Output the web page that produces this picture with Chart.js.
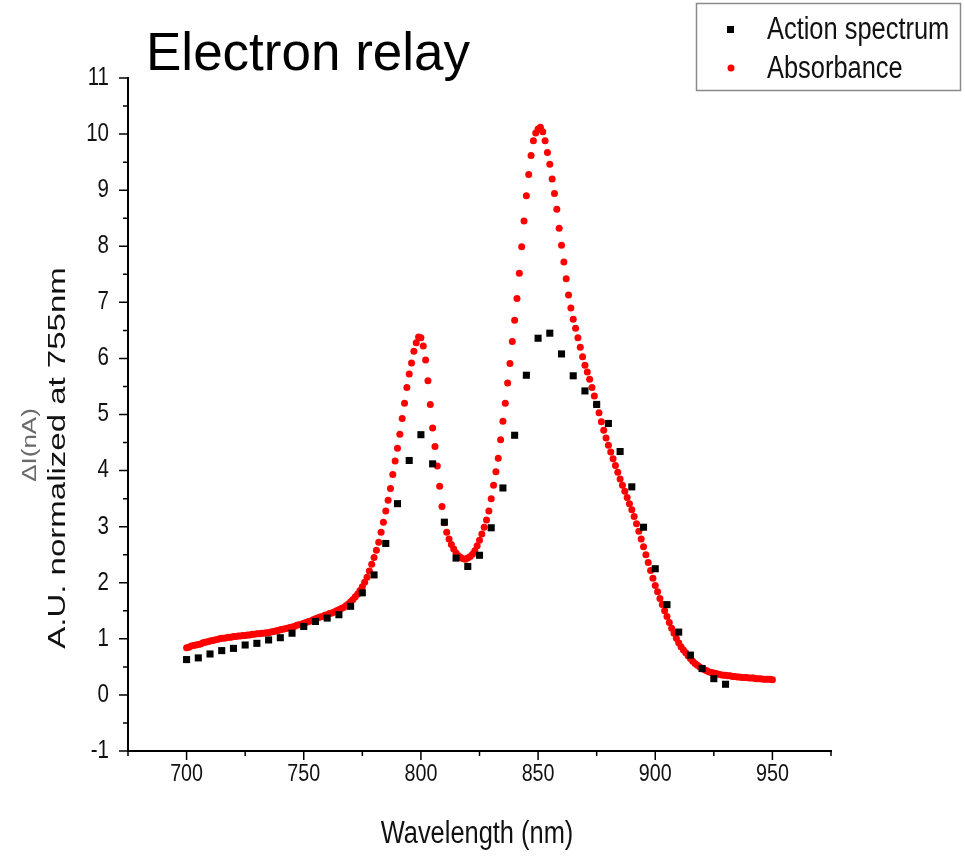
<!DOCTYPE html>
<html>
<head>
<meta charset="utf-8">
<script src="https://cdn.jsdelivr.net/npm/chart.js@4.4.1/dist/chart.umd.min.js"></script>
<style>
  html, body { margin: 0; padding: 0; background: #fff; }
  canvas { display: block; }
</style>
</head>
<body>
<canvas id="c" width="965" height="856"></canvas>
<script>
// ---------- DATA ----------
const chartTitle = 'Electron relay';
const seriesNames = ['Action spectrum', 'Absorbance'];
const xAxisTitle = 'Wavelength (nm)';
const yAxisTitleTop = '\u0394I(nA)';
const yAxisTitle = 'A.U. normalized at 755nm';

// Action spectrum: wavelengths (nm) and values
const actionWavelengths = [700,705,710,715,720,725,730,735,740,745,750,755,760,765,770,775,780,785,790,795,
  800,805,810,815,820,825,830,835,840,845,850,855,860,865,870,875,880,885,890,895,900,905,910,915,920,925,930];
const actionValues = [0.63,0.66,0.73,0.79,0.83,0.89,0.92,0.98,1.02,1.10,1.22,1.31,1.37,1.43,1.58,1.82,2.14,2.70,3.41,4.18,
  4.64,4.12,3.08,2.44,2.29,2.49,2.98,3.69,4.63,5.70,6.36,6.45,6.08,5.69,5.42,5.18,4.84,4.34,3.71,2.99,2.25,1.61,1.12,0.71,0.47,0.29,0.19];

// Absorbance: sampled every 1 nm from 700 nm to 950 nm
const absorbanceStart = 700;
const absorbanceStep = 1;
const absorbanceValues = [
  0.84,0.85,0.87,0.88,0.89,0.90,0.91,0.93,0.94,0.95,
  0.96,0.97,0.98,0.99,1.00,1.01,1.01,1.02,1.03,1.03,
  1.04,1.04,1.05,1.05,1.06,1.06,1.07,1.07,1.08,1.08,
  1.09,1.09,1.10,1.10,1.11,1.11,1.12,1.13,1.14,1.15,
  1.16,1.17,1.18,1.19,1.20,1.21,1.22,1.24,1.25,1.26,
  1.28,1.29,1.31,1.32,1.34,1.36,1.37,1.39,1.40,1.42,
  1.43,1.45,1.46,1.48,1.50,1.52,1.54,1.56,1.59,1.62,
  1.66,1.70,1.75,1.80,1.86,1.93,2.01,2.10,2.21,2.33,
  2.45,2.58,2.72,2.90,3.08,3.28,3.47,3.68,3.93,4.17,
  4.40,4.65,4.93,5.20,5.48,5.72,5.92,6.13,6.28,6.38,
  6.37,6.22,5.97,5.60,5.18,4.76,4.43,4.08,3.72,3.36,
  3.07,2.90,2.78,2.68,2.60,2.53,2.48,2.45,2.43,2.42,
  2.44,2.47,2.51,2.57,2.66,2.76,2.87,2.99,3.12,3.28,
  3.50,3.74,3.98,4.22,4.55,4.88,5.20,5.56,5.91,6.30,
  6.68,7.07,7.52,7.99,8.45,8.90,9.28,9.62,9.88,10.02,
  10.09,10.12,10.04,9.88,9.67,9.46,9.20,8.94,8.66,8.32,
  8.02,7.72,7.42,7.13,6.90,6.70,6.54,6.37,6.20,6.03,
  5.88,5.76,5.63,5.48,5.33,5.18,5.03,4.87,4.72,4.58,
  4.45,4.33,4.21,4.09,3.97,3.85,3.74,3.63,3.52,3.41,
  3.30,3.18,3.05,2.92,2.78,2.64,2.50,2.36,2.22,2.08,
  1.95,1.84,1.72,1.61,1.50,1.40,1.29,1.19,1.10,1.01,
  0.93,0.86,0.80,0.75,0.70,0.65,0.60,0.56,0.53,0.50,
  0.47,0.45,0.43,0.41,0.40,0.39,0.38,0.37,0.36,0.35,
  0.35,0.34,0.34,0.33,0.33,0.32,0.32,0.31,0.31,0.31,
  0.30,0.30,0.30,0.29,0.29,0.29,0.28,0.28,0.28,0.28,
  0.27
];

// Axis ticks
const xMin = 675, xMax = 975;
const xMajorTicks = [700,750,800,850,900,950];
const xMinorTicks = [675,725,775,825,875,925,975];
const yMin = -1, yMax = 11;
const yMajorTicks = [-1,0,1,2,3,4,5,6,7,8,9,10,11];
const yMinorTicks = [-0.5,0.5,1.5,2.5,3.5,4.5,5.5,6.5,7.5,8.5,9.5,10.5];

// ---------- BUILD ----------
const actionPoints = actionWavelengths.map((w, i) => ({ x: w, y: actionValues[i] }));
const absorbancePoints = absorbanceValues.map((v, i) => ({ x: absorbanceStart + i * absorbanceStep, y: v }));

const SANS = '"Liberation Sans", Arial, Helvetica, sans-serif';
const NARROW_X = 0.82; // horizontal condensing of the plot's own texts

const xAllTicks = xMajorTicks.concat(xMinorTicks).sort((a, b) => a - b);
const yAllTicks = yMajorTicks.concat(yMinorTicks).sort((a, b) => a - b);

const decorations = {
  id: 'decorations',
  afterDraw(chart) {
    const ctx = chart.ctx;
    const xs = chart.scales.x, ys = chart.scales.y;
    const area = chart.chartArea;

    function htext(text, x, y, size, align, baseline, sx, color) {
      ctx.save();
      ctx.translate(x, y);
      ctx.scale(sx, 1);
      ctx.font = size + 'px ' + SANS;
      ctx.fillStyle = color;
      ctx.textAlign = align;
      ctx.textBaseline = baseline;
      ctx.fillText(text, 0, 0);
      ctx.restore();
    }
    function vtext(text, cx, cy, size, color, sx) {
      ctx.save();
      ctx.translate(cx, cy);
      ctx.scale(sx, 1);
      ctx.rotate(-Math.PI / 2);
      ctx.font = size + 'px ' + SANS;
      ctx.fillStyle = color;
      ctx.textAlign = 'center';
      ctx.textBaseline = 'middle';
      ctx.fillText(text, 0, 0);
      ctx.restore();
    }

    ctx.save();
    // tick marks
    ctx.strokeStyle = '#000';
    ctx.lineWidth = 1.5;
    ctx.beginPath();
    xAllTicks.forEach(v => {
      const px = xs.getPixelForValue(v);
      const len = xMajorTicks.includes(v) ? 9 : 5;
      ctx.moveTo(px, area.bottom);
      ctx.lineTo(px, area.bottom + len);
    });
    yAllTicks.forEach(v => {
      const py = ys.getPixelForValue(v);
      const len = yMajorTicks.includes(v) ? 9 : 5;
      ctx.moveTo(area.left, py);
      ctx.lineTo(area.left - len, py);
    });
    ctx.stroke();
    ctx.restore();

    // tick labels
    xMajorTicks.forEach(v => {
      htext(String(v), xs.getPixelForValue(v), area.bottom + 23, 24, 'center', 'middle', NARROW_X, '#111');
    });
    yMajorTicks.forEach(v => {
      htext(String(v), area.left - 19, ys.getPixelForValue(v), 25, 'right', 'middle', NARROW_X, '#111');
    });

    // axis titles
    htext(xAxisTitle, 477, 834, 31, 'center', 'middle', NARROW_X, '#111');
    vtext(yAxisTitle, 58, 458, 33, '#111', 0.75);
    vtext(yAxisTitleTop, 31, 445, 26, '#6a6a6a', 0.75);

    // chart title
    htext(chartTitle, 146, 70, 53, 'left', 'alphabetic', 1, '#000');

    // legend
    ctx.save();
    ctx.strokeStyle = '#8a8a8a';
    ctx.lineWidth = 1.5;
    ctx.strokeRect(696.5, 3.5, 264, 87);
    const ds0 = chart.data.datasets[0], ds1 = chart.data.datasets[1];
    ctx.fillStyle = ds0.pointBackgroundColor;
    ctx.fillRect(727, 26, 7, 7);
    ctx.fillStyle = ds1.pointBackgroundColor;
    ctx.beginPath();
    ctx.arc(731, 68, 3.5, 0, Math.PI * 2);
    ctx.fill();
    ctx.restore();
    htext(ds0.label, 767, 39, 31, 'left', 'alphabetic', NARROW_X, '#111');
    htext(ds1.label, 767, 78, 31, 'left', 'alphabetic', NARROW_X, '#111');
  }
};

new Chart(document.getElementById('c'), {
  type: 'scatter',
  data: {
    datasets: [
      {
        label: seriesNames[0],
        data: actionPoints,
        pointStyle: 'rect',
        pointRadius: 5,
        pointBackgroundColor: '#000000',
        pointBorderWidth: 0,
        showLine: false
      },
      {
        label: seriesNames[1],
        data: absorbancePoints,
        pointStyle: 'circle',
        pointRadius: 3.5,
        pointBackgroundColor: '#ff0000',
        pointBorderWidth: 0,
        showLine: false
      }
    ]
  },
  options: {
    responsive: false,
    animation: false,
    events: [],
    layout: { padding: { left: 0, top: 78, right: 134, bottom: 0 } },
    plugins: {
      legend: { display: false },
      tooltip: { enabled: false },
      title: { display: false }
    },
    scales: {
      x: {
        type: 'linear',
        min: xMin,
        max: xMax,
        afterBuildTicks: s => { s.ticks = xAllTicks.map(v => ({ value: v })); },
        afterFit: s => { s.height = 105; },
        grid: { display: false, drawTicks: true, tickLength: 9 },
        border: { display: true, color: '#000', width: 2 },
        ticks: { display: false },
        title: { display: false, text: xAxisTitle }
      },
      y: {
        type: 'linear',
        min: yMin,
        max: yMax,
        afterBuildTicks: s => { s.ticks = yAllTicks.map(v => ({ value: v })); },
        afterFit: s => { s.width = 128; },
        grid: { display: false, drawTicks: true, tickLength: 9 },
        border: { display: true, color: '#000', width: 2 },
        ticks: { display: false },
        title: { display: false, text: yAxisTitle }
      }
    }
  },
  plugins: [decorations]
});
</script>
</body>
</html>
